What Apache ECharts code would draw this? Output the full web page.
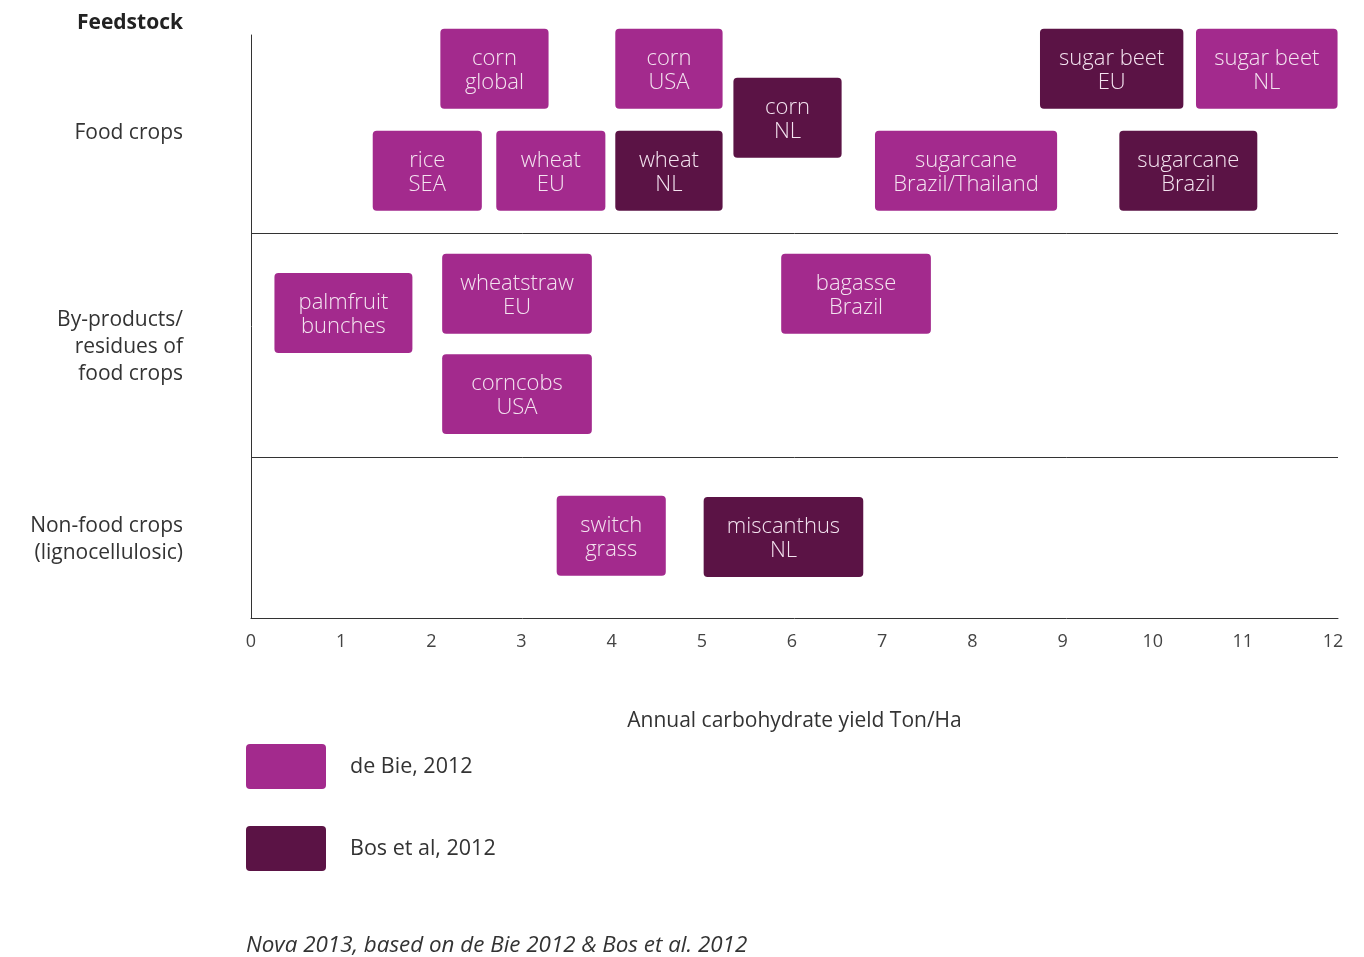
<!DOCTYPE html>
<html>
<head>
<meta charset="utf-8">
<script src="https://cdn.jsdelivr.net/npm/echarts@6/dist/echarts.min.js"></script>
<style>
html,body{margin:0;padding:0;background:#fff;}
#chart{width:1364px;height:957px;}
</style>
</head>
<body>
<div id="chart"></div>
<script>
// ---- data ----
const xTickValues = [0,1,2,3,4,5,6,7,8,9,10,11,12];
const xTickLabels = ['0','1','2','3','4','5','6','7','8','9','10','11','12'];
const groupLabels = ['Food crops', 'By-products/\nresidues of\nfood crops', 'Non-food crops\n(lignocellulosic)'];
const groupLabelY = [8.32, 4.65, 1.35];
const groupSeparators = [6.60, 2.76];

// de Bie, 2012
const deBieNames = ['corn\nglobal', 'corn\nUSA', 'sugar beet\nNL', 'rice\nSEA', 'wheat\nEU', 'sugarcane\nBrazil/Thailand',
                    'palmfruit\nbunches', 'wheatstraw\nEU', 'bagasse\nBrazil', 'corncobs\nUSA', 'switch\ngrass'];
const deBieMin   = [2.10, 4.04, 10.48, 1.35, 2.72, 6.92, 0.26, 2.12, 5.88, 2.12, 3.39];
const deBieMax   = [3.30, 5.23, 12.05, 2.56, 3.93, 8.94, 1.79, 3.78, 7.54, 3.78, 4.60];
const deBieY     = [9.42, 9.42, 9.42, 7.67, 7.67, 7.67, 5.23, 5.56, 5.56, 3.84, 1.41];

// Bos et al, 2012
const bosNames = ['corn\nNL', 'sugar beet\nEU', 'wheat\nNL', 'sugarcane\nBrazil', 'miscanthus\nNL'];
const bosMin   = [5.35, 8.75, 4.04, 9.63, 5.02];
const bosMax   = [6.55, 10.34, 5.23, 11.16, 6.79];
const bosY     = [8.58, 9.42, 7.67, 7.67, 1.39];

const COLOR_DEBIE = '#A32A8D';
const COLOR_BOS = '#5B1345';
const BOX_H = 1.372;
const FONT = '"Open Sans", sans-serif';

function makeRender(names, color) {
  return function (params, api) {
    const x0 = api.value(0), x1 = api.value(1), yc = api.value(2);
    const p0 = api.coord([x0, yc + BOX_H / 2]);
    const p1 = api.coord([x1, yc - BOX_H / 2]);
    const w = p1[0] - p0[0], h = p1[1] - p0[1];
    return {
      type: 'group',
      children: [
        { type: 'rect', shape: { x: p0[0], y: p0[1], width: w, height: h, r: 4 },
          style: { fill: color } },
        { type: 'text',
          style: { x: p0[0] + w / 2, y: p0[1] + h / 2 + 2, text: names[params.dataIndex],
                   align: 'center', verticalAlign: 'middle', fill: '#F4E4F0',
                   font: '300 22px "Open Sans", sans-serif', lineHeight: 24 } }
      ]
    };
  };
}

function buildData(mins, maxs, ys) {
  return mins.map((m, i) => [m, maxs[i], ys[i]]);
}

const legendIcon = 'path://M4,0 H76 Q80,0 80,4 V41 Q80,45 76,45 H4 Q0,45 0,41 V4 Q0,0 4,0 Z';

const chart = echarts.init(document.getElementById('chart'));
chart.setOption({
  animation: false,
  backgroundColor: '#fff',
  title: [
    { text: 'Feedstock', right: 1181, top: 13, padding: 0,
      textStyle: { fontSize: 21, fontWeight: 'bold', color: '#222', fontFamily: FONT } },
    { text: 'Nova 2013, based on de Bie 2012 & Bos et al. 2012', left: 246, top: 935, padding: 0,
      textStyle: { fontSize: 22.4, fontWeight: 'normal', fontStyle: 'italic', color: '#333', fontFamily: FONT } }
  ],
  legend: {
    orient: 'vertical', left: 246, top: 744, padding: 0,
    itemWidth: 80, itemHeight: 45, itemGap: 37,
    icon: legendIcon,
    textStyle: { fontSize: 21.5, color: '#333', fontFamily: FONT, padding: [0, 0, 0, 19] },
    data: ['de Bie, 2012', 'Bos et al, 2012']
  },
  grid: { left: 251, right: 26, top: 35, bottom: 339, containLabel: false },
  xAxis: {
    type: 'value', min: 0, max: 12.055,
    axisLine: { show: true, lineStyle: { color: '#333', width: 1 } },
    axisTick: { show: false },
    splitLine: { show: false },
    axisLabel: { customValues: xTickValues, fontSize: 18, color: '#444', margin: 15, fontFamily: FONT,
                 formatter: v => xTickLabels[xTickValues.indexOf(v)] },
    name: 'Annual carbohydrate yield Ton/Ha',
    nameLocation: 'middle', nameGap: 93,
    nameTextStyle: { fontSize: 21, color: '#333', fontFamily: FONT }
  },
  yAxis: {
    type: 'value', min: 0, max: 10,
    axisLine: { show: true, lineStyle: { color: '#333', width: 1 } },
    axisTick: { show: false },
    splitLine: { show: false },
    axisLabel: {
      customValues: groupLabelY,
      formatter: v => { const i = groupLabelY.indexOf(v); return i >= 0 ? groupLabels[i] : ''; },
      fontSize: 21, color: '#333', margin: 68, align: 'right', lineHeight: 27,
      fontFamily: FONT
    }
  },
  series: [
    {
      name: 'de Bie, 2012', type: 'custom', clip: false,
      itemStyle: { color: COLOR_DEBIE },
      renderItem: makeRender(deBieNames, COLOR_DEBIE),
      encode: { x: [0, 1], y: 2 },
      data: buildData(deBieMin, deBieMax, deBieY),
      markLine: {
        silent: true, symbol: 'none', label: { show: false },
        lineStyle: { color: '#333', width: 1, type: 'solid' },
        data: groupSeparators.map(v => ({ yAxis: v }))
      }
    },
    {
      name: 'Bos et al, 2012', type: 'custom', clip: false,
      itemStyle: { color: COLOR_BOS },
      renderItem: makeRender(bosNames, COLOR_BOS),
      encode: { x: [0, 1], y: 2 },
      data: buildData(bosMin, bosMax, bosY)
    }
  ]
});
</script>
</body>
</html>
